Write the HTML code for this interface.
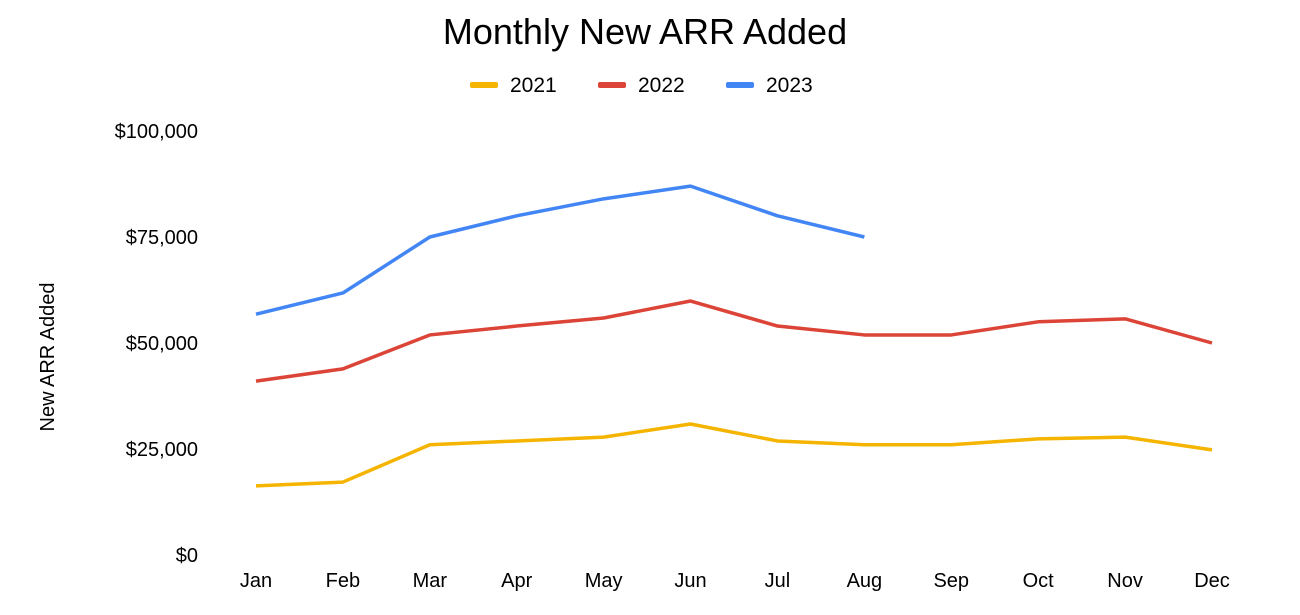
<!DOCTYPE html>
<html><head><meta charset="utf-8"><style>
html,body{margin:0;padding:0;background:#fff;}
svg{display:block;font-family:"Liberation Sans",Arial,sans-serif;}
</style></head><body>
<svg id="chart" width="1300" height="615" viewBox="0 0 1300 615">
<text x="645" y="44" text-anchor="middle" font-size="36" fill="#000">Monthly New ARR Added</text>
<g id="legend"></g>
<text transform="translate(54,357) rotate(-90)" text-anchor="middle" font-size="20" fill="#000">New ARR Added</text>
<g id="yticks"></g>
<g id="xticks"></g>
<g id="series"></g>
</svg>
<script>
const months = ["Jan","Feb","Mar","Apr","May","Jun","Jul","Aug","Sep","Oct","Nov","Dec"];
const seriesNames = ["2021","2022","2023"];
const seriesColors = ["#f4b400","#db4437","#4285f4"];
const values2021 = [16300,17200,26000,26900,27800,30900,26900,26000,26000,27400,27800,24800];
const values2022 = [41000,43900,51900,54000,55900,59900,54000,51900,51900,55000,55700,50000];
const values2023 = [56800,61800,75000,80000,84000,87000,80000,75000];
const yTicks = [0,25000,50000,75000,100000];
const yTickLabels = ["$0","$25,000","$50,000","$75,000","$100,000"];
const allSeries = [values2021, values2022, values2023];

const NS = "http://www.w3.org/2000/svg";
const yMax = 100000, yTop = 131, yBot = 555;
const xFirst = 256, xLast = 1212;
function yScale(v){ return yBot - (v / yMax) * (yBot - yTop); }
function xScale(i){ return xFirst + i * (xLast - xFirst) / (months.length - 1); }

const yg = document.getElementById('yticks');
yTicks.forEach((t, i) => {
  const tx = document.createElementNS(NS, 'text');
  tx.setAttribute('x', 198);
  tx.setAttribute('y', yScale(t) + 7);
  tx.setAttribute('text-anchor', 'end');
  tx.setAttribute('font-size', '20');
  tx.textContent = yTickLabels[i];
  
  
  yg.appendChild(tx);
});
const xg = document.getElementById('xticks');
months.forEach((m, i) => {
  const tx = document.createElementNS(NS, 'text');
  tx.setAttribute('x', xScale(i));
  tx.setAttribute('y', 587);
  tx.setAttribute('text-anchor', 'middle');
  tx.setAttribute('font-size', '20');
  tx.textContent = m;
  
  
  xg.appendChild(tx);
});
const sg = document.getElementById('series');
allSeries.forEach((vals, s) => {
  const pts = vals.map((v, i) => xScale(i) + ',' + yScale(v)).join(' ');
  const pl = document.createElementNS(NS, 'polyline');
  pl.setAttribute('points', pts);
  pl.setAttribute('fill', 'none');
  pl.setAttribute('stroke', seriesColors[s]);
  pl.setAttribute('stroke-width', '3.5');
  pl.setAttribute('stroke-linejoin', 'round');
  
  
  sg.appendChild(pl);
});
const lg = document.getElementById('legend');
const legendX = [470, 598, 726];
seriesNames.forEach((n, s) => {
  const g = document.createElementNS(NS, 'g');
  
  
  const r = document.createElementNS(NS, 'rect');
  r.setAttribute('x', legendX[s]);
  r.setAttribute('y', 82);
  r.setAttribute('width', 28);
  r.setAttribute('height', 6);
  r.setAttribute('rx', 2);
  r.setAttribute('fill', seriesColors[s]);
  
  
  g.appendChild(r);
  const t = document.createElementNS(NS, 'text');
  t.setAttribute('x', legendX[s] + 40);
  t.setAttribute('y', 92);
  t.setAttribute('font-size', '21');
  t.textContent = n;
  
  
  g.appendChild(t);
  lg.appendChild(g);
});
</script>
</body></html>
